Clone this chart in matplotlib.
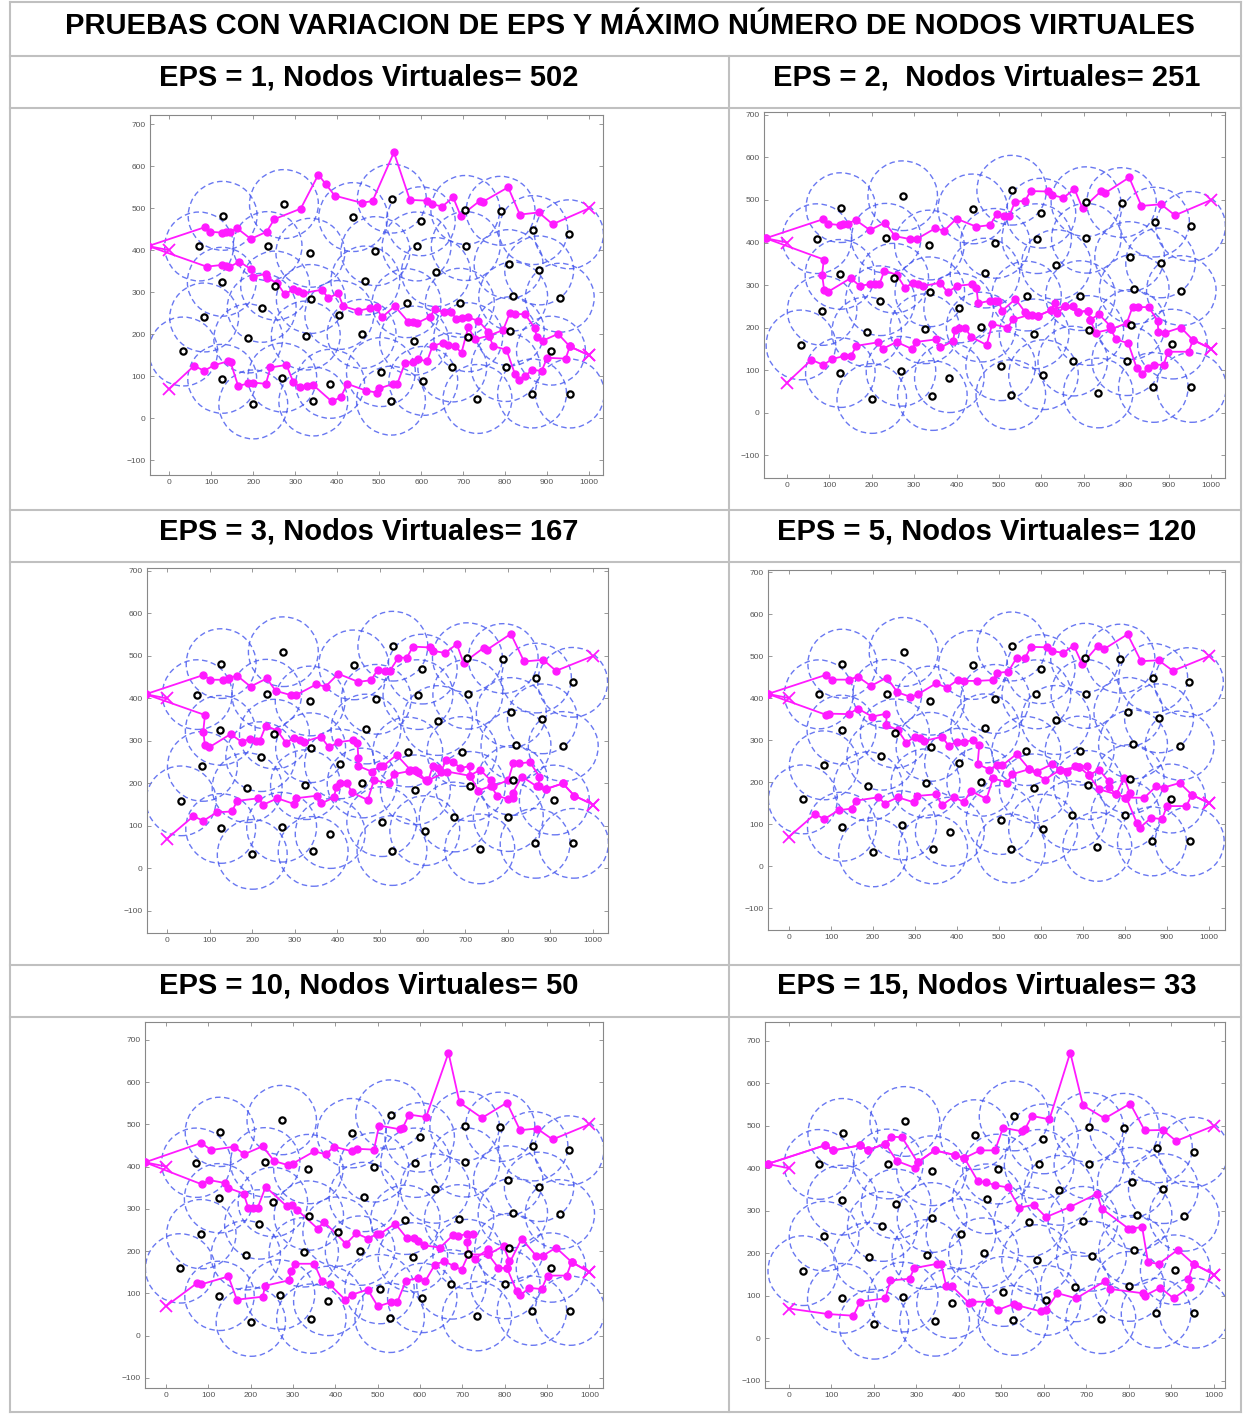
import matplotlib
matplotlib.use("Agg")
import matplotlib.pyplot as plt
from matplotlib.lines import Line2D
from matplotlib.patches import Circle

plt.rcParams["font.family"] = ["Liberation Sans", "DejaVu Sans"]

# sensor nodes (same deployment in every run)
node_x = [33, 83, 220, 188, 126, 200, 269, 325, 337, 343, 383, 405, 458, 127, 273,
          71, 234, 336, 438, 125, 252, 467, 530, 599, 705, 789, 491, 589, 706, 867,
          952, 635, 808, 881, 819, 930, 565, 692, 583, 712, 811, 909, 504, 605, 674,
          801, 528, 734, 864, 954]
node_y = [159, 240, 263, 190, 94, 33, 97, 197, 284, 40, 82, 246, 201, 482, 510,
          409, 410, 394, 479, 325, 316, 328, 523, 469, 496, 494, 398, 409, 410, 448,
          438, 348, 367, 352, 290, 287, 274, 275, 185, 193, 207, 161, 110, 89, 121,
          122, 42, 46, 59, 59]
coverage_radius = 82

start_point = (-50, 410)
start_goal = (0, 400)

titles = [
    "EPS = 1, Nodos Virtuales= 502",
    "EPS = 2,  Nodos Virtuales= 251",
    "EPS = 3, Nodos Virtuales= 167",
    "EPS = 5, Nodos Virtuales= 120",
    "EPS = 10, Nodos Virtuales= 50",
    "EPS = 15, Nodos Virtuales= 33",
]

# EPS = 1
p1_upper = [(-50, 410), (85, 455), (97, 444), (125, 442), (135, 444), (144, 444), (162, 452), (194, 427),
            (232, 444), (250, 474), (313, 499), (355, 580), (373, 557), (394, 530), (458, 513), (484, 517),
            (535, 633), (573, 520), (614, 518), (625, 510), (650, 504), (676, 526), (694, 482), (740, 518),
            (748, 516), (807, 550), (835, 485), (880, 490), (913, 462), (1000, 500)]
p1_middle = [(-50, 410), (89, 361), (125, 365), (135, 363), (143, 360), (167, 373), (194, 355), (200, 337),
             (230, 344), (232, 333), (256, 323), (275, 295), (295, 307), (307, 302), (319, 298), (363, 306),
             (379, 286), (402, 298), (414, 267), (450, 256), (478, 262), (494, 264), (506, 240), (537, 267),
             (569, 230), (581, 230), (589, 226), (621, 242), (633, 260), (654, 252), (672, 252), (684, 236),
             (696, 238), (712, 240), (736, 232), (760, 206), (762, 197), (795, 210), (811, 250), (823, 248),
             (847, 248), (871, 214), (875, 193), (890, 185), (926, 201), (954, 171), (1000, 150)]
p1_lower = [(0, 70), (59, 125), (83, 113), (106, 126), (140, 136), (146, 133), (164, 77), (188, 83),
            (200, 85), (230, 82), (241, 121), (279, 127), (295, 87), (311, 74), (327, 77), (343, 79),
            (387, 40), (408, 50), (424, 82), (468, 66), (495, 61), (500, 71), (533, 82), (543, 82),
            (561, 131), (581, 135), (593, 140), (614, 136), (627, 172), (652, 180), (664, 175), (680, 172),
            (696, 156), (712, 217), (728, 188), (762, 197), (771, 172), (803, 163), (823, 106), (833, 90),
            (847, 101), (865, 115), (887, 113), (900, 144), (944, 142), (954, 171), (1000, 150)]

# EPS = 2
p2_upper = [(-50, 410), (86, 455), (97, 444), (125, 441), (133, 443), (143, 444), (162, 453), (196, 429),
            (231, 447), (255, 415), (290, 408), (306, 408), (349, 433), (371, 428), (400, 456), (447, 437),
            (479, 441), (495, 467), (513, 462), (524, 462), (538, 496), (561, 498), (575, 521), (615, 520),
            (624, 512), (652, 505), (678, 526), (697, 480), (741, 521), (750, 516), (807, 553), (836, 486),
            (882, 490), (915, 464), (1000, 500)]
p2_middle = [(-50, 410), (87, 360), (83, 324), (88, 288), (97, 284), (150, 316), (172, 298), (196, 302),
             (208, 302), (218, 302), (230, 334), (259, 324), (278, 294), (298, 305), (310, 302), (322, 298),
             (361, 305), (379, 283), (402, 298), (437, 302), (447, 293), (451, 257), (479, 263), (491, 263),
             (498, 263), (508, 240), (539, 267), (561, 237), (577, 229), (591, 227), (623, 241), (632, 258),
             (638, 233), (656, 251), (675, 251), (687, 236), (711, 240), (715, 218), (736, 231), (762, 204),
             (764, 196), (801, 210), (815, 248), (827, 248), (853, 248), (874, 216), (876, 190), (892, 188),
             (929, 200), (957, 171), (1000, 150)]
p2_lower = [(0, 70), (58, 124), (86, 112), (107, 126), (135, 133), (151, 133), (164, 157), (214, 165),
            (226, 150), (259, 166), (296, 149), (304, 166), (351, 172), (362, 153), (392, 168), (396, 194),
            (406, 200), (420, 200), (434, 178), (471, 159), (484, 208), (520, 200), (534, 219), (569, 229),
            (591, 227), (623, 241), (656, 251), (687, 236), (711, 240), (715, 218), (728, 188), (764, 196),
            (776, 172), (805, 163), (825, 104), (838, 90), (851, 105), (866, 113), (888, 112), (899, 143),
            (947, 143), (958, 171), (1000, 150)]

# EPS = 3
p3_upper = [(-50, 410), (85, 455), (101, 444), (132, 444), (142, 446), (146, 448), (164, 454), (196, 428),
            (234, 447), (255, 418), (290, 408), (303, 408), (350, 433), (372, 428), (402, 458), (449, 439),
            (479, 443), (494, 467), (512, 465), (523, 465), (543, 496), (563, 496), (577, 522), (617, 520),
            (625, 512), (653, 507), (680, 528), (696, 484), (743, 519), (750, 514), (807, 552), (838, 487),
            (883, 491), (913, 465), (1000, 500)]
p3_middle = [(-50, 410), (89, 361), (85, 322), (89, 290), (99, 285), (149, 316), (175, 298), (195, 305),
             (210, 301), (218, 301), (232, 336), (259, 324), (279, 296), (298, 307), (311, 302), (321, 298),
             (361, 310), (380, 285), (402, 297), (437, 302), (447, 295), (449, 259), (449, 241), (480, 228),
             (500, 240), (506, 240), (539, 267), (571, 232), (581, 232), (588, 228), (608, 207), (613, 207),
             (624, 241), (635, 236), (642, 226), (655, 254), (672, 251), (688, 236), (711, 241), (710, 218),
             (735, 232), (760, 207), (766, 193), (801, 208), (813, 249), (825, 247), (852, 250), (874, 216),
             (872, 193), (890, 187), (929, 200), (956, 171), (1000, 150)]
p3_lower = [(0, 70), (62, 123), (85, 112), (117, 132), (152, 134), (165, 159), (214, 165), (226, 150),
            (259, 165), (297, 152), (302, 165), (351, 171), (362, 153), (392, 167), (397, 192), (406, 202),
            (422, 202), (434, 179), (471, 161), (486, 208), (520, 200), (533, 222), (569, 229), (610, 206),
            (657, 228), (711, 218), (731, 183), (760, 194), (775, 171), (801, 163), (811, 165), (811, 177),
            (833, 216), (868, 193), (890, 187), (929, 200), (956, 171), (1000, 150)]

# EPS = 5
p4_upper = [(-50, 410), (87, 455), (103, 444), (143, 444), (164, 451), (195, 429), (233, 449), (258, 414),
            (289, 403), (307, 409), (350, 435), (376, 425), (403, 444), (417, 441), (447, 441), (486, 443),
            (496, 460), (522, 463), (542, 496), (562, 496), (576, 522), (615, 521), (625, 512), (653, 508),
            (678, 525), (698, 481), (735, 524), (749, 516), (806, 552), (838, 488), (880, 490), (914, 465),
            (1000, 500)]
p4_middle = [(-50, 410), (89, 360), (95, 363), (142, 362), (164, 375), (198, 356), (232, 363), (232, 336),
             (259, 324), (279, 294), (300, 308), (311, 304), (322, 298), (364, 308), (380, 287), (400, 296),
             (417, 296), (439, 300), (453, 288), (449, 243), (477, 230), (496, 240), (508, 240), (542, 267),
             (572, 231), (590, 225), (627, 243), (645, 229), (662, 225), (682, 238), (690, 237), (710, 239),
             (714, 216), (738, 230), (761, 202), (761, 188), (779, 171), (798, 211), (811, 175), (801, 163),
             (846, 163), (874, 190), (892, 187), (930, 198), (959, 170), (1000, 150)]
p4_lower = [(0, 70), (62, 124), (84, 112), (118, 133), (149, 137), (160, 156), (213, 164), (228, 149),
            (259, 164), (297, 152), (304, 167), (350, 171), (364, 145), (392, 165), (416, 152), (433, 179),
            (470, 160), (486, 209), (520, 199), (532, 219), (572, 231), (609, 206), (645, 229), (690, 237),
            (714, 216), (738, 183), (779, 171), (803, 163), (828, 103), (836, 92), (862, 115), (888, 112),
            (900, 143), (946, 143), (959, 170), (1000, 150)]

# EPS = 10
p5_upper = [(-50, 410), (83, 456), (106, 439), (161, 447), (184, 429), (228, 448), (255, 413), (289, 403),
            (299, 407), (350, 436), (377, 429), (397, 447), (439, 436), (450, 442), (491, 440), (503, 497),
            (553, 488), (559, 492), (574, 523), (614, 517), (667, 669), (693, 552), (746, 515), (805, 551),
            (836, 486), (876, 490), (913, 464), (1000, 500)]
p5_middle = [(-50, 410), (84, 358), (102, 368), (139, 361), (145, 350), (183, 336), (194, 302), (206, 301),
             (216, 302), (235, 352), (285, 306), (297, 309), (309, 298), (358, 253), (373, 269), (425, 217),
             (449, 242), (478, 229), (498, 241), (506, 241), (541, 265), (569, 230), (586, 230), (596, 223),
             (608, 214), (647, 208), (677, 237), (690, 235), (710, 241), (726, 241), (710, 221), (714, 192),
             (730, 182), (761, 205), (761, 192), (797, 212), (811, 176), (805, 160), (840, 229), (874, 189),
             (890, 189), (921, 208), (958, 174), (1000, 150)]
p5_lower = [(0, 70), (74, 125), (82, 121), (147, 140), (167, 85), (228, 92), (234, 118), (291, 131),
            (294, 152), (305, 170), (350, 170), (368, 129), (386, 121), (423, 85), (440, 97), (476, 109),
            (500, 69), (531, 79), (546, 79), (566, 129), (596, 137), (612, 129), (635, 168), (657, 176),
            (680, 164), (698, 156), (714, 192), (761, 192), (785, 160), (805, 160), (828, 105), (836, 95),
            (858, 113), (887, 110), (901, 142), (946, 142), (958, 174), (1000, 150)]

# EPS = 15
p6_upper = [(-50, 410), (85, 454), (105, 442), (168, 454), (186, 442), (227, 458), (241, 474), (266, 473),
            (303, 414), (343, 442), (391, 431), (413, 424), (450, 442), (485, 442), (504, 495), (548, 487),
            (556, 493), (572, 523), (613, 515), (662, 672), (692, 548), (743, 517), (803, 552), (837, 489),
            (880, 490), (911, 464), (1000, 500)]
p6_middle = [(-50, 410), (85, 454), (105, 442), (168, 454), (186, 442), (227, 458), (254, 417), (296, 401),
             (303, 414), (343, 442), (391, 431), (413, 424), (445, 369), (464, 367), (485, 360), (515, 355),
             (542, 307), (576, 314), (605, 285), (662, 309), (725, 340), (736, 305), (799, 258), (807, 258),
             (831, 262), (845, 179), (870, 175), (915, 208), (952, 175), (1000, 150)]
p6_lower = [(0, 70), (92, 57), (152, 53), (168, 86), (227, 94), (239, 136), (284, 140), (295, 165),
            (348, 175), (358, 175), (370, 124), (384, 122), (423, 84), (432, 86), (470, 86), (493, 67),
            (529, 81), (540, 77), (593, 63), (605, 67), (632, 106), (676, 94), (743, 134), (756, 116),
            (832, 106), (837, 100), (874, 119), (905, 94), (943, 120), (940, 139), (952, 175), (1000, 150)]

routes = [
    (p1_upper, p1_middle, p1_lower),
    (p2_upper, p2_middle, p2_lower),
    (p3_upper, p3_middle, p3_lower),
    (p4_upper, p4_middle, p4_lower),
    (p5_upper, p5_middle, p5_lower),
    (p6_upper, p6_middle, p6_lower),
]

# axes boxes in pixels (x0, y0, x1, y1) and their data limits
boxes = [(150, 115, 603, 475), (764, 112, 1225, 478),
         (147, 568, 608, 933), (768, 570, 1225, 930),
         (145, 1022, 603, 1388), (765, 1022, 1225, 1388)]
xlims = [(-46, 1033), (-54, 1033), (-47, 1035), (-50, 1038), (-50, 1032), (-56, 1026)]
ylims = [(-135, 722), (-154, 707), (-152, 707), (-152, 705), (-124, 742), (-117, 744)]

W, H = 1243, 1414
MAG = "#ff1aff"
GRID = "#c0c0c0"

fig = plt.figure(figsize=(W / 100, H / 100), dpi=100)


def fx(x):
    return x / W


def fy(y):
    return 1 - y / H


# table frame
for y in [2, 56, 108, 510, 562, 965, 1017, 1412]:
    fig.add_artist(Line2D([fx(10), fx(1241)], [fy(y), fy(y)], color=GRID, lw=1.5))
for x, y0 in [(10, 2), (1241, 2), (729, 56)]:
    fig.add_artist(Line2D([fx(x), fx(x)], [fy(y0), fy(1412)], color=GRID, lw=1.5))

fig.text(fx(630), fy(34), "PRUEBAS CON VARIACION DE EPS Y MÁXIMO NÚMERO DE NODOS VIRTUALES",
         ha="center", va="baseline", fontsize=21, fontweight="bold")

title_pos = [(369, 85), (987, 85), (369, 540), (987, 540), (369, 994), (987, 994)]
for (tx, ty), t in zip(title_pos, titles):
    fig.text(fx(tx), fy(ty), t, ha="center", va="baseline", fontsize=21, fontweight="bold")

for i, (x0, y0, x1, y1) in enumerate(boxes):
    ax = fig.add_axes([fx(x0), fy(y1), (x1 - x0) / W, (y1 - y0) / H])
    ax.set_xlim(*xlims[i])
    ax.set_ylim(*ylims[i])

    # coverage circles
    for cx, cy in zip(node_x, node_y):
        ax.add_patch(Circle((cx, cy), coverage_radius, fill=False, ec="#4456ee", alpha=0.8,
                            lw=1.0, ls=(0, (4, 2.5)), zorder=1))

    upper, middle, lower = routes[i]
    for path, dots in [(upper, slice(0, -1)), (middle, slice(0, -1)), (lower, slice(1, -1))]:
        xs = [p[0] for p in path]
        ys = [p[1] for p in path]
        ax.plot(xs, ys, "-", color=MAG, lw=1.3, zorder=2)
        ax.plot(xs[dots], ys[dots], "o", color=MAG, ms=5, mec=MAG, zorder=3)
        ax.plot(xs[-1], ys[-1], "x", color=MAG, ms=8, mew=1.3, zorder=3)
    # lower route starts at a cross
    ax.plot(lower[0][0], lower[0][1], "x", color=MAG, ms=8, mew=1.3, zorder=3)

    ax.plot([start_point[0], start_goal[0]], [start_point[1], start_goal[1]], "-", color=MAG, lw=1.3, zorder=2)
    ax.plot(*start_goal, "x", color=MAG, ms=8, mew=1.3, zorder=3)

    # sensor nodes
    ax.plot(node_x, node_y, "o", ms=4.5, mfc="white", mec="black", mew=1.6, ls="", zorder=4)

    ax.set_xticks(range(0, 1001, 100))
    ax.set_yticks(range(-100, 701, 100))
    ax.tick_params(direction="in", top=True, right=True, length=3, width=0.6,
                   colors="#888888", labelcolor="#555555", labelsize=6, pad=3)
    for s in ax.spines.values():
        s.set_color("#888888")
        s.set_linewidth(0.8)

fig.savefig("out.png", dpi=100)
